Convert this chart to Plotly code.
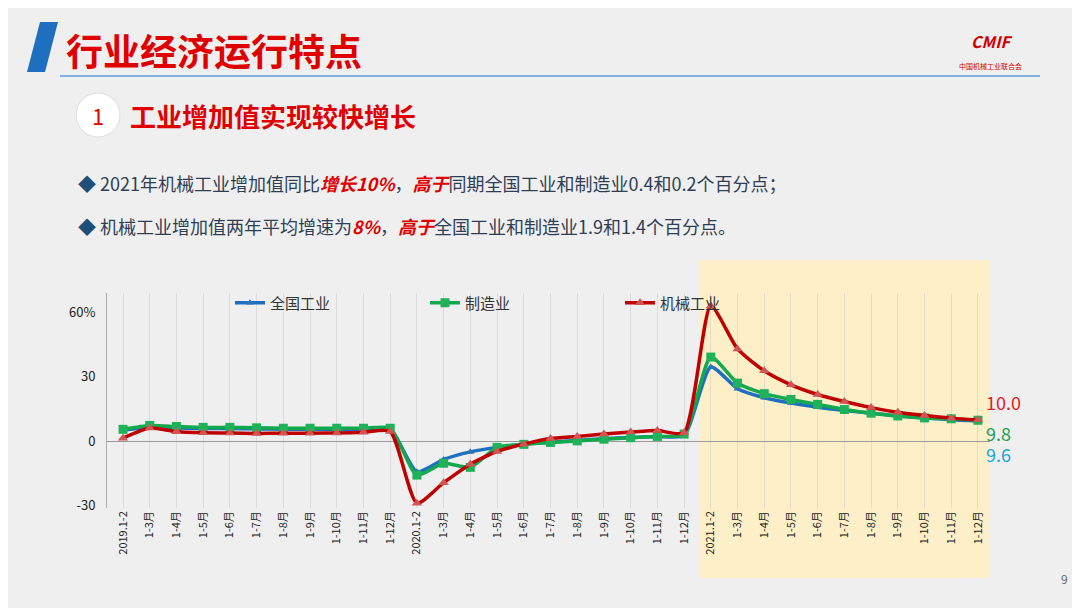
import plotly.graph_objects as go

# x categories
months = ["1-2", "1-3月", "1-4月", "1-5月", "1-6月", "1-7月", "1-8月", "1-9月", "1-10月", "1-11月", "1-12月"]
labels = ["2019.1-2"] + months[1:] + ["2020.1-2"] + months[1:] + ["2021.1-2"] + months[1:]

national = [5.3, 6.5, 6.2, 6.0, 6.0, 5.8, 5.6, 5.6, 5.6, 5.6, 5.7,
            -14.1, -8.4, -4.9, -2.8, -1.3, -0.4, 0.4, 1.2, 1.8, 2.3, 2.8,
            34.6, 24.5, 20.3, 17.8, 15.9, 14.4, 13.1, 11.8, 10.9, 10.1, 9.6]
manufacturing = [5.6, 7.4, 6.9, 6.5, 6.5, 6.3, 6.1, 6.1, 6.1, 6.1, 6.1,
                 -15.7, -10.2, -12.1, -2.8, -1.4, -0.5, 0.2, 1.0, 1.7, 2.3, 3.4,
                 39.2, 27.1, 22.2, 19.5, 17.2, 14.8, 13.1, 11.8, 10.9, 10.5, 9.8]
machinery = [1.5, 6.2, 4.5, 4.0, 3.9, 3.7, 3.8, 3.8, 3.9, 4.2, 4.6,
             -28.8, -19.2, -10.6, -4.7, -1.3, 1.3, 2.3, 3.4, 4.3, 5.0, 4.0,
             63.0, 43.0, 32.8, 26.3, 21.8, 18.5, 15.7, 13.5, 12.0, 10.8, 10.0]

xs = list(range(len(labels)))

# the page body adds an offset, so targets are given in window pixels and shifted
OFF = 8
L, R, T, B = 99, 98, 285, 108
PW, PH = 1080 - L - R, 608 - T - B


def px(x):  # window pixel -> paper x
    return (x - OFF - L) / PW


def py(y):  # window pixel -> paper y
    return (608 - B - (y - OFF)) / PH


def note(x, y, text, size, color, xanchor="left", **kw):
    fig.add_annotation(xref="paper", yref="paper", x=px(x), y=py(y), text=text,
                       showarrow=False, xanchor=xanchor, yanchor="middle",
                       font=dict(size=size, color=color, family="Noto Sans CJK SC"), **kw)


fig = go.Figure()

series = [
    ("全国工业", national, "#1F6FC0", "triangle-up", 7, "#2E75B6"),
    ("制造业", manufacturing, "#12A84E", "square", 9, "#1FB25A"),
    ("机械工业", machinery, "#C00000", "triangle-up", 9, "#D25555"),
]
for name, ys, col, sym, ms, mcol in series:
    fig.add_trace(go.Scatter(
        x=xs, y=ys, name=name, mode="lines+markers",
        line=dict(color=col, width=3.5, shape="spline", smoothing=0.6),
        marker=dict(symbol=sym, size=ms, color=mcol),
    ))

# highlighted 2021 region
fig.add_shape(type="rect", xref="x", yref="paper", x0=21.6, x1=32.45, y0=py(578), y1=py(260),
              fillcolor="#FDF0C8", line_width=0, layer="below")

# end labels
note(984, 402, "10.0", 18, "#E02020")
note(984, 433, "9.8", 18, "#1FA050")
note(984, 454, "9.6", 18, "#1BA6D8")

# slide header
fig.add_shape(type="path", xref="paper", yref="paper",
              path=f"M {px(40)} {py(22)} L {px(58)} {py(22)} L {px(45)} {py(72)} L {px(27)} {py(72)} Z",
              fillcolor="#1F6FC0", line_width=0)
fig.add_shape(type="line", xref="paper", yref="paper", x0=px(60), x1=px(1040), y0=py(76), y1=py(76),
              line=dict(color="#7FB2DD", width=2))
note(64, 50, "<b>行业经济运行特点</b>", 37, "#E00000")
note(990, 50, "<b><i>CMIF</i></b><br><span style='font-size:7px'>中国机械工业联合会</span>",
     16, "#D00000", xanchor="center")
fig.add_shape(type="circle", xref="paper", yref="paper", x0=px(76), x1=px(120), y0=py(137), y1=py(93),
              fillcolor="#FFFFFF", line=dict(color="#DDDDDD", width=1))
note(98, 115, "1", 22, "#E00000", xanchor="center")
note(128, 115, "<b>工业增加值实现较快增长</b>", 26, "#E00000")
bullet1 = ("<span style='color:#1F4E79'>◆</span> 2021年机械工业增加值同比"
           "<b><i><span style='color:#E00000'>增长10%</span></i></b>，"
           "<b><i><span style='color:#E00000'>高于</span></i></b>同期全国工业和制造业0.4和0.2个百分点；")
bullet2 = ("<span style='color:#1F4E79'>◆</span> 机械工业增加值两年平均增速为"
           "<b><i><span style='color:#E00000'>8%</span></i></b>，"
           "<b><i><span style='color:#E00000'>高于</span></i></b>全国工业和制造业1.9和1.4个百分点。")
note(76, 183, bullet1, 18, "#2F3E55")
note(76, 226, bullet2, 18, "#2F3E55")
note(1064, 578, "9", 12, "#666666", xanchor="center")

fig.update_layout(
    width=1080, height=608,
    margin=dict(l=L, r=R, t=T, b=B),
    paper_bgcolor="#EFEFEF", plot_bgcolor="rgba(0,0,0,0)",
    font=dict(family="Noto Sans CJK SC", color="#333333"),
    legend=dict(orientation="h", x=px(230), y=py(303), xanchor="left", yanchor="middle", entrywidth=150,
                bgcolor="rgba(0,0,0,0)", font=dict(size=15, color="#333333"), itemwidth=30),
    showlegend=True,
)
fig.update_xaxes(
    range=[-0.6, 32.45], tickmode="array", tickvals=xs, ticktext=labels, tickangle=-90,
    tickfont=dict(size=11, color="#222222"), showgrid=True, gridcolor="rgba(200,200,200,0.5)",
    zeroline=False, showline=False, automargin=False,
)
fig.update_yaxes(
    range=[-31, 69], tickmode="array", tickvals=[-30, 0, 30, 60], ticktext=["-30", "0", "30", "60%"],
    tickfont=dict(size=13, color="#222222"), showgrid=False, zeroline=True, zerolinecolor="#999999",
    zerolinewidth=1, showline=True, linecolor="#AAAAAA", ticks="", ticklabelstandoff=8, automargin=False,
)

fig.write_html("out.html")
